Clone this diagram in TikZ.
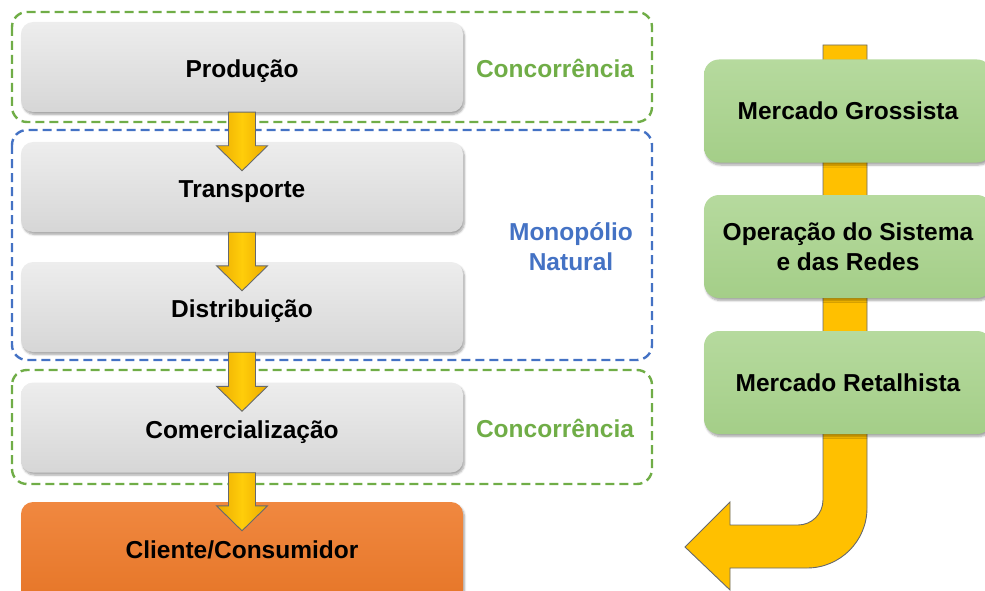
\documentclass[tikz,border=0pt]{standalone}
\usepackage{fontspec}
\setmainfont{Liberation Sans}
\usetikzlibrary{calc,shadows.blur}
\definecolor{grn}{HTML}{70AD47}
\definecolor{blu}{HTML}{4472C4}
\definecolor{ylw}{HTML}{FFC000}
\definecolor{ylwedge}{HTML}{66696E}
\tikzset{
  graybox/.style={rounded corners=12pt, minimum width=442pt, minimum height=90pt,
    top color=gray!14, bottom color=gray!32, draw=none,
    blur shadow={shadow xshift=1.5pt, shadow yshift=-2.5pt, shadow blur steps=6, shadow opacity=35},
    font=\bfseries\fontsize{24.5}{29}\selectfont, text=black, text height=21pt, text depth=0pt},
  orangebox/.style={graybox, top color={rgb,255:red,240;green,136;blue,64}, bottom color={rgb,255:red,230;green,118;blue,40}},
  greenbox/.style={rounded corners=15pt, minimum width=288pt, minimum height=103pt,
    top color={rgb,255:red,182;green,218;blue,158}, bottom color={rgb,255:red,164;green,206;blue,136},
    draw=none, blur shadow={shadow xshift=1.5pt, shadow yshift=-2.5pt, shadow blur steps=6, shadow opacity=35},
    font=\bfseries\fontsize{24.5}{30}\selectfont, text=black, align=center},
  zone/.style={rounded corners=15pt, line width=2.4pt, dash pattern=on 9pt off 5pt},
  zonelabel/.style={font=\bfseries\fontsize{24.5}{30}\selectfont, align=center},
  yarr/.style={left color={rgb,255:red,235;green,170;blue,0}, right color={rgb,255:red,235;green,170;blue,0},
    middle color={rgb,255:red,255;green,205;blue,10}, draw=ylwedge, line width=0.9pt, line join=miter},
  yarr2/.style={fill=ylw, draw=ylwedge, line width=0.9pt, line join=miter},
}
\newcommand\flowarrow[2]{%
  \path[yarr] ($(#1.south)+(-13.5,0)$) -- ($(#2.north)+(-13.5,4)$) -- ($(#2.north)+(-25.5,4)$)
    -- ($(#2.north)+(0,29)$) -- ($(#2.north)+(25.5,4)$) -- ($(#2.north)+(13.5,4)$)
    -- ($(#1.south)+(13.5,0)$) -- cycle;}
\begin{document}
\begin{tikzpicture}[x=1pt,y=-1pt]
\useasboundingbox (0,0) rectangle (985,591);
\clip (0,0) rectangle (985,591);
% zones
\draw[zone, grn] (12,12) rectangle (652,122);
\draw[zone, blu] (12,130) rectangle (652,360);
\draw[zone, grn] (12,370) rectangle (652,484);
\node[zonelabel, text=grn] (c1) at (555,68) {Concorrência};
\node[zonelabel, text=blu] (mn) at (571,247) {Monopólio\\Natural};
\node[zonelabel, text=grn] (c2) at (555,428) {Concorrência};
% left chain
\node[graybox] (prod) at (242,67) {Produção};
\node[graybox] (trans) at (242,187) {Transporte};
\node[graybox] (dist) at (242,307) {Distribuição};
\node[graybox] (com) at (242,427.5) {Comercialização};
\node[orangebox, minimum height=100pt] (cli) at (242,552) {\raisebox{4pt}{Cliente/Consumidor}};
\flowarrow{prod}{trans}
\flowarrow{trans}{dist}
\flowarrow{dist}{com}
\flowarrow{com}{cli}
% right curved arrow
\coordinate (bartop) at (845,45);
\path[yarr2] ($(bartop)+(-22,0)$) -- ($(bartop)+(22,0)$) -- (867,508)
  arc[start angle=0, end angle=90, radius=60] -- (730,568) -- (730,590) -- (685,547)
  -- (730,502) -- (730,525) -- (798,525)
  arc[start angle=90, end angle=0, radius=25] -- cycle;
% right boxes
\node[greenbox] (mg) at (848,111) {Mercado Grossista};
\node[greenbox] (op) at (848,246.5) {Operação do Sistema\\e das Redes};
\node[greenbox] (mr) at (848,382.5) {Mercado Retalhista};
\end{tikzpicture}
\end{document}
